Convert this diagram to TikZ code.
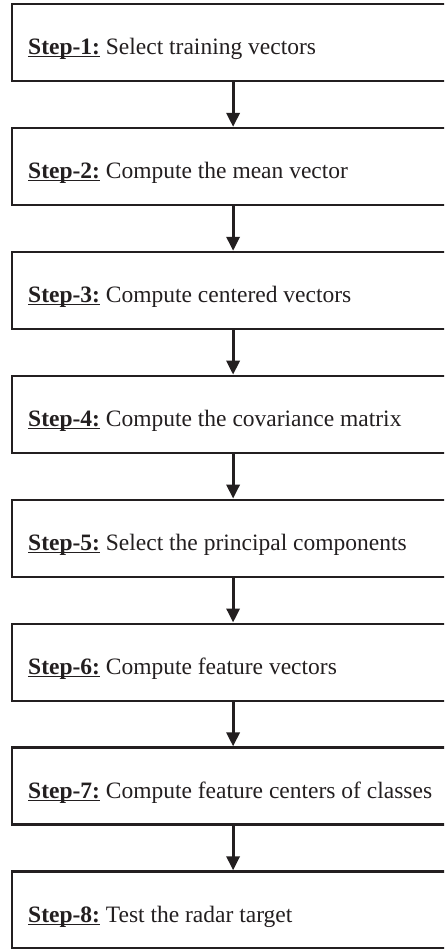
\documentclass[tikz,border=0pt]{standalone}
\usepackage{fontspec}
\setmainfont{Liberation Serif}
\usetikzlibrary{arrows.meta,calc}
\definecolor{ink}{HTML}{231F20}
\newcommand{\stepul}[1]{\underline{\smash{\textbf{#1}}}}
\begin{document}
\begin{tikzpicture}[x=1pt,y=-1pt,
  stepbox/.style={draw=ink,line width=2.2pt,minimum width=443pt,minimum height=77pt,inner sep=0pt,anchor=north west},
  steptext/.style={anchor=base west,inner sep=0pt,font=\fontsize{23.5}{28}\selectfont,text=ink},
  flow/.style={draw=ink,line width=3.2pt,-{Triangle[width=13pt,length=14pt]}}]
\clip (0,0) rectangle (444,949);
\fill[white] (0,0) rectangle (444,949);
\foreach \i/\t in {1/Select training vectors,2/Compute the mean vector,3/Compute centered vectors,4/Compute the covariance matrix,5/Select the principal components,6/Compute feature vectors,7/Compute feature centers of classes,8/Test the radar target}{
  \node[stepbox] (b\i) at (10.5,{3+(\i-1)*123.9}) {};
  \node[steptext] (t\i) at ($(b\i.north west)+(17.5,52)$) {\stepul{Step-\i:} \t};
}
\foreach \i [evaluate=\i as \j using int(\i+1)] in {1,...,7}{
  \draw[flow] (b\i.south) -- (b\j.north);
}
\end{tikzpicture}
\end{document}
